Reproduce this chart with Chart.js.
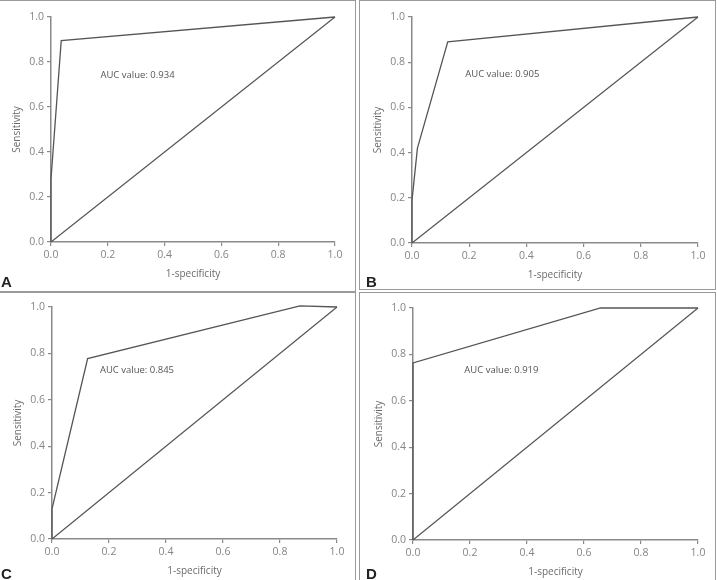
<!DOCTYPE html>
<html>
<head>
<meta charset="utf-8">
<script src="https://cdn.jsdelivr.net/npm/chart.js@4.4.1/dist/chart.umd.min.js"></script>
<style>
  html, body { margin: 0; padding: 0; background: #fff; }
  body { width: 717px; height: 580px; position: relative; overflow: hidden; }
  .box { position: absolute; border: 1.5px solid #9a9a9a; box-sizing: border-box; }
  .cv { position: absolute; }
  .tag { position: absolute; font: bold 15px "Liberation Sans", Arial, sans-serif; color: #222; line-height: 1; }
</style>
</head>
<body>
<div class="box" style="left:-2px; top:0; width:358px; height:292px;"></div>
<div class="box" style="left:359px; top:0; width:357px; height:290px;"></div>
<div class="box" style="left:-2px; top:292px; width:358px; height:290px;"></div>
<div class="box" style="left:359px; top:292px; width:357px; height:290px;"></div>

<canvas id="rocA" class="cv" style="left:0; top:0;"></canvas>
<canvas id="rocB" class="cv" style="left:360px; top:0;"></canvas>
<canvas id="rocC" class="cv" style="left:0; top:293px;"></canvas>
<canvas id="rocD" class="cv" style="left:360px; top:293px;"></canvas>

<div class="tag" style="left:1px; top:274px;">A</div>
<div class="tag" style="left:366px; top:274px;">B</div>
<div class="tag" style="left:1px; top:566px;">C</div>
<div class="tag" style="left:366px; top:566px;">D</div>

<script>
// ROC curves for the four models (A-D).
// Each curve: 1-specificity (x) vs sensitivity (y).
const rocA_x = [0, 0, 0.036, 1];
const rocA_y = [0, 0.28, 0.895, 1];
const rocB_x = [0, 0, 0.019, 0.125, 1];
const rocB_y = [0, 0.19, 0.42, 0.89, 1];
const rocC_x = [0, 0, 0.125, 0.87, 1];
const rocC_y = [0, 0.13, 0.778, 1.005, 1.0];
const rocD_x = [0, 0, 0.658, 1];
const rocD_y = [0, 0.763, 1, 1];

// reference diagonal (chance line)
const diagX = [0, 1];
const diagY = [0, 1];

const aucLabels = ['AUC value: 0.934', 'AUC value: 0.905', 'AUC value: 0.845', 'AUC value: 0.919'];
const aucPos = [[0.174, 0.74], [0.186, 0.745], [0.168, 0.726], [0.18, 0.733]];

const tickValues = [0, 0.2, 0.4, 0.6, 0.8, 1.0];
const xTitle = '1-specificity';
const yTitle = 'Sensitivity';

// canvas size + where the plot area should land inside it
const panels = [
    { id: 'rocA', w: 356, h: 291, left: 51, top: 17, right: 335, bottom: 242 },
    { id: 'rocB', w: 356, h: 291, left: 52, top: 17, right: 338, bottom: 243 },
    { id: 'rocC', w: 356, h: 287, left: 52, top: 14, right: 337, bottom: 246 },
    { id: 'rocD', w: 356, h: 287, left: 53, top: 15, right: 338, bottom: 247 }
];
const curves = [[rocA_x, rocA_y], [rocB_x, rocB_y], [rocC_x, rocC_y], [rocD_x, rocD_y]];

const FONT = '"Open Sans", "Noto Sans", sans-serif';
const AXIS_W = 40, AXIS_H = 38;

function toPoints(xs, ys) {
    return xs.map((x, i) => ({ x, y: ys[i] }));
}

const aucPlugin = {
    id: 'aucText',
    afterDatasetsDraw(chart, args, opts) {
        const { ctx, scales } = chart;
        ctx.save();
        ctx.font = '9.5px ' + FONT;
        ctx.fillStyle = '#555';
        ctx.textBaseline = 'middle';
        ctx.fillText(opts.text, scales.x.getPixelForValue(opts.pos[0]), scales.y.getPixelForValue(opts.pos[1]));
        ctx.restore();
    }
};

function axisBase() {
    return {
        type: 'linear',
        min: 0, max: 1,
        afterBuildTicks: s => { s.ticks = tickValues.map(v => ({ value: v })); },
        ticks: { color: '#858585', font: { family: FONT, size: 10.5 }, callback: v => Number(v).toFixed(1), padding: 3 },
        grid: { drawOnChartArea: false, color: '#8a8a8a', tickLength: 4, lineWidth: 1.2 },
        border: { color: '#8a8a8a', width: 1.5 }
    };
}

panels.forEach((p, i) => {
    const canvas = document.getElementById(p.id);
    canvas.width = p.w; canvas.height = p.h;
    canvas.style.width = p.w + 'px'; canvas.style.height = p.h + 'px';

    const x = axisBase();
    x.afterFit = s => { s.height = AXIS_H; };
    x.title = { display: true, text: xTitle, color: '#6a6a6a', font: { family: FONT, size: 10 }, padding: { top: 3, bottom: 0 } };
    const y = axisBase();
    y.afterFit = s => { s.width = AXIS_W; };
    y.title = { display: true, text: yTitle, color: '#6a6a6a', font: { family: FONT, size: 10 }, padding: { top: 0, bottom: 0 } };

    new Chart(canvas.getContext('2d'), {
        type: 'scatter',
        data: {
            datasets: [
                { data: toPoints(curves[i][0], curves[i][1]), showLine: true, borderColor: '#555', borderWidth: 1.3, pointRadius: 0, clip: false },
                { data: toPoints(diagX, diagY), showLine: true, borderColor: '#555', borderWidth: 1.2, pointRadius: 0, clip: false }
            ]
        },
        options: {
            responsive: false,
            animation: false,
            devicePixelRatio: 1,
            layout: { padding: { left: p.left - AXIS_W, top: p.top, right: p.w - p.right, bottom: p.h - p.bottom - AXIS_H } },
            plugins: {
                legend: { display: false },
                tooltip: { enabled: false },
                aucText: { text: aucLabels[i], pos: aucPos[i] }
            },
            scales: { x, y }
        },
        plugins: [aucPlugin]
    });
});
</script>
</body>
</html>
